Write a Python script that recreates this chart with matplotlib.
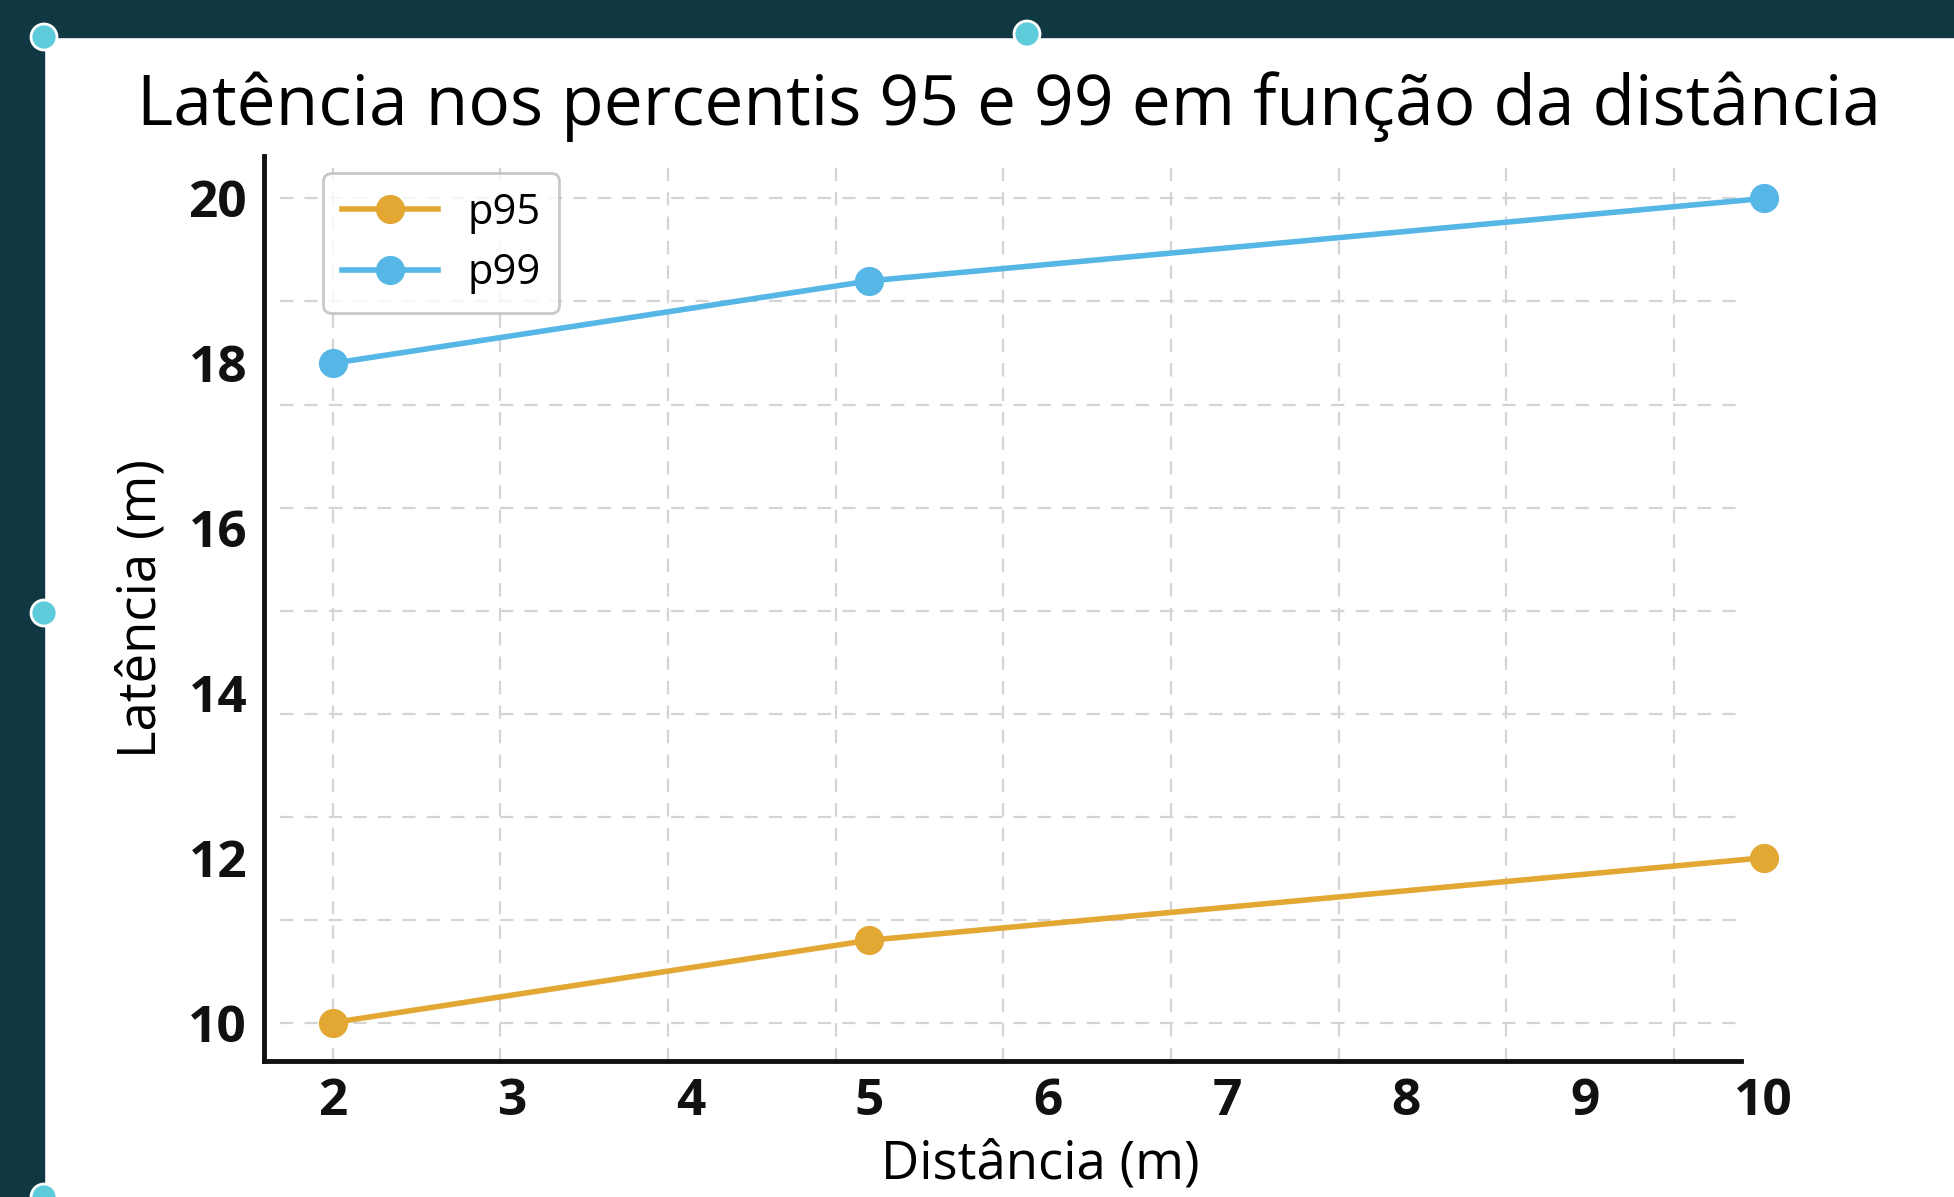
import matplotlib
matplotlib.use('Agg')
import matplotlib.pyplot as plt
import numpy as np
from matplotlib.patches import Rectangle, Circle

plt.rcParams['font.family'] = ['Open Sans', 'DejaVu Sans']

distancia = [2, 5, 10]
p95 = [10, 11, 12]
p99 = [18, 19, 20]
x_ticks = [2, 3, 4, 5, 6, 7, 8, 9, 10]
y_ticks = [10, 12, 14, 16, 18, 20]

fig = plt.figure(figsize=(19.54, 11.97), dpi=100)
fig.patch.set_facecolor('white')

# fundo escuro nas bordas (como na captura)
fundo = '#0f3843'
fig.patches.append(Rectangle((0, 0), 44 / 1954, 1, transform=fig.transFigure, color=fundo, zorder=0))
fig.patches.append(Rectangle((0, 1 - 37 / 1197), 1, 37 / 1197, transform=fig.transFigure, color=fundo, zorder=0))

ax = fig.add_axes([0.135, 0.114, 0.795, 0.756])
ax.plot(distancia, p95, color='#E3A833', lw=4, marker='o', ms=20, label='p95', clip_on=False, zorder=3)
ax.plot(distancia, p99, color='#56B7E6', lw=4, marker='o', ms=20, label='p99', clip_on=False, zorder=3)

x_min, x_max = 1.614, 10.3
ax.set_xlim(x_min, x_max)
ax.set_ylim(9.54, 20.52)
ax.set_xticks(x_ticks)
ax.set_yticks(y_ticks)
ax.tick_params(axis='both', which='both', length=0, labelsize=37, pad=12)
for lab in ax.get_xticklabels() + ax.get_yticklabels():
    lab.set_fontweight('bold')
    lab.set_color('#111111')

# grade tracejada (a grade da imagem não coincide com os ticks)
x_fim = 9.875
grade_y = np.linspace(10, 20, 9)
grade_x = np.linspace(2, 9.5, 9)
ax.hlines(grade_y, x_min + 0.09, x_fim, colors='#d4d4d4', lw=1.6, linestyles=(0, (6, 5)), zorder=1)
ax.vlines(grade_x, 9.54, 20.45, colors='#d4d4d4', lw=1.6, linestyles=(0, (6, 5)), zorder=1)

for s in ['top', 'right']:
    ax.spines[s].set_visible(False)
ax.spines['left'].set_linewidth(3.5)
ax.spines['bottom'].set_linewidth(3.5)
ax.spines['left'].set_color('#111111')
ax.spines['bottom'].set_color('#111111')
ax.spines['bottom'].set_bounds(x_min, x_fim)

ax.set_xlabel('Distância (m)', fontsize=38, labelpad=8)
ax.set_ylabel('Latência (m)', fontsize=38, labelpad=14)
ax.set_title('Latência nos percentis 95 e 99 em função da distância', fontsize=50, pad=22, x=0.48)

leg = ax.legend(loc='upper left', bbox_to_anchor=(0.025, 1.004), fontsize=30, frameon=True,
                fancybox=True, edgecolor='#bbbbbb', handlelength=2.3, handletextpad=0.7,
                borderpad=0.45, labelspacing=0.45)
leg.get_frame().set_linewidth(2)

# marcadores de seleção
for px, py in [(44, 37), (1027, 34), (44, 613), (44, 1197)]:
    fig.patches.append(Circle((px / 100, (1197 - py) / 100), 0.13, transform=fig.dpi_scale_trans,
                              facecolor='#5DCBDA', edgecolor='white', lw=2, zorder=5))

fig.savefig('out.png', dpi=100)
